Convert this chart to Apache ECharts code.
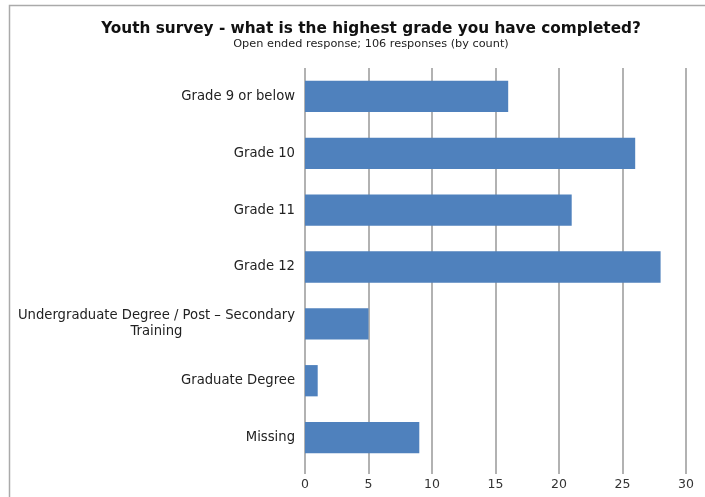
<!DOCTYPE html>
<html>
<head>
<meta charset="utf-8">
<script src="https://cdn.jsdelivr.net/npm/echarts@6/dist/echarts.min.js"></script>
<style>
  html, body { margin: 0; padding: 0; background: #fff; }
  #chart { width: 705px; height: 497px; }
</style>
</head>
<body>
<div id="chart"></div>
<script>
// Survey answers, listed top to bottom
const categories = [
  'Grade 9 or below',
  'Grade 10',
  'Grade 11',
  'Grade 12',
  'Undergraduate Degree / Post \u2013 Secondary\nTraining',
  'Graduate Degree',
  'Missing'
];
const counts = [16, 26, 21, 28, 5, 1, 9];
const xTicks = [0, 5, 10, 15, 20, 25, 30];

const chart = echarts.init(document.getElementById('chart'));
const font = '"DejaVu Sans", Verdana, sans-serif';

// Multi-line labels: first line right-aligned, following lines centred under it
function categoryLabel(value) {
  const lines = value.split('\n');
  if (lines.length === 1) return value;
  return '{r|' + lines[0] + '}' + lines.slice(1).map(l => '\n{c|' + l + '}').join('');
}

chart.setOption({
  animation: false,
  backgroundColor: '#fff',
  graphic: [{
    type: 'rect',
    shape: { x: 9.5, y: 5.5, width: 720, height: 520 },
    style: { fill: 'none', stroke: '#aaa', lineWidth: 1.5 },
    silent: true
  }],
  title: {
    text: 'Youth survey - what is the highest grade you have completed?',
    subtext: 'Open ended response; 106 responses (by count)',
    left: 366,
    textAlign: 'center',
    top: 17,
    itemGap: 2,
    textStyle: { fontFamily: font, fontSize: 15.3, fontWeight: 'bold', color: '#111' },
    subtextStyle: { fontFamily: font, fontSize: 11.3, color: '#222' }
  },
  grid: { left: 305, right: 19, top: 68, bottom: 31, containLabel: false },
  xAxis: {
    type: 'value',
    min: xTicks[0],
    max: xTicks[xTicks.length - 1],
    interval: 5,
    axisLine: { show: false },
    axisTick: { show: true, length: 8, lineStyle: { color: '#999', width: 1.5 } },
    axisLabel: { fontFamily: font, fontSize: 12.5, color: '#333', margin: 12 },
    splitLine: { show: true, lineStyle: { color: '#999', width: 1.5 } }
  },
  yAxis: {
    type: 'category',
    data: categories,
    inverse: true,
    axisLine: { show: false },
    axisTick: { show: false },
    axisLabel: {
      fontFamily: font, fontSize: 13.2, color: '#222', margin: 10, align: 'right', lineHeight: 16,
      formatter: categoryLabel,
      rich: {
        r: { fontFamily: font, fontSize: 13.2, color: '#222', lineHeight: 16, align: 'right' },
        c: { fontFamily: font, fontSize: 13.2, color: '#222', lineHeight: 16, align: 'center' }
      }
    }
  },
  series: [{
    type: 'bar',
    data: counts,
    barWidth: '55%',
    itemStyle: { color: '#4f81bd' }
  }]
});
</script>
</body>
</html>
